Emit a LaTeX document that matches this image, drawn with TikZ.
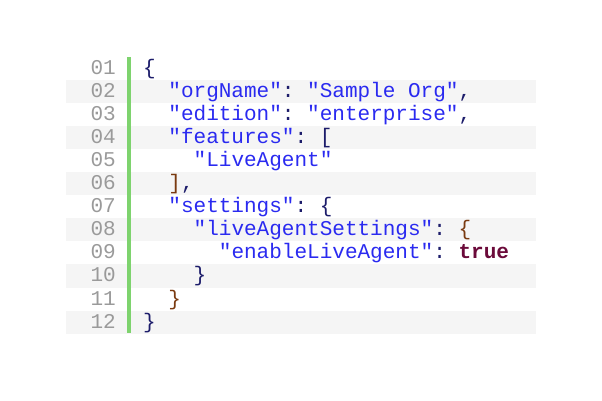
\documentclass[tikz,border=0pt]{standalone}
\usepackage{fontspec}
\setmonofont{Liberation Mono}
\definecolor{cstr}{HTML}{2A2AF0}
\definecolor{cpun}{HTML}{1C1C6A}
\definecolor{cbr}{HTML}{7A3A10}
\definecolor{ctrue}{HTML}{6B0A3A}
\definecolor{cnum}{HTML}{9A9A9A}
\definecolor{cstripe}{HTML}{F5F5F5}
\definecolor{cbar}{HTML}{7ED36E}
\tikzset{code/.style={anchor=base west,inner sep=0pt,font=\ttfamily\fontsize{21.1}{24}\selectfont,text=cpun},
 num/.style={anchor=base east,inner sep=0pt,font=\ttfamily\fontsize{21.1}{24}\selectfont,text=cnum}}
\newcommand{\jstr}[1]{\textcolor{cstr}{#1}}
\begin{document}
\begin{tikzpicture}[x=1bp,y=-1bp]
\useasboundingbox (0,0) rectangle (602,400);
\foreach \i in {2,4,...,12}{
 \fill[cstripe] (66,{56.5+23.1*(\i-1)}) rectangle (536,{79.6+23.1*(\i-1)});
}
\fill[cbar] (127,57) rectangle (131,333);
\foreach \i/\n in {1/01,2/02,3/03,4/04,5/05,6/06,7/07,8/08,9/09,10/10,11/11,12/12}{
 \node[num] (n\i) at (116,{74+23.1*(\i-1)}) {\n};
}
\node[code] (l1) at (143,74) {\{};
\node[code] (l2) at (143,{74+23.1}) {\ \ \jstr{"orgName"}: \jstr{"Sample Org"},};
\node[code] (l3) at (143,{74+23.1*2}) {\ \ \jstr{"edition"}: \jstr{"enterprise"},};
\node[code] (l4) at (143,{74+23.1*3}) {\ \ \jstr{"features"}: [};
\node[code] (l5) at (143,{74+23.1*4}) {\ \ \ \ \jstr{"LiveAgent"}};
\node[code] (l6) at (143,{74+23.1*5}) {\ \ \textcolor{cbr}{]},};
\node[code] (l7) at (143,{74+23.1*6}) {\ \ \jstr{"settings"}: \{};
\node[code] (l8) at (143,{74+23.1*7}) {\ \ \ \ \jstr{"liveAgentSettings"}: \textcolor{cbr}{\{}};
\node[code] (l9) at (143,{74+23.1*8}) {\ \ \ \ \ \ \jstr{"enableLiveAgent"}: \textcolor{ctrue}{\bfseries true}};
\node[code] (l10) at (143,{74+23.1*9}) {\ \ \ \ \}};
\node[code] (l11) at (143,{74+23.1*10}) {\ \ \textcolor{cbr}{\}}};
\node[code] (l12) at (143,{74+23.1*11}) {\}};
\end{tikzpicture}
\end{document}
